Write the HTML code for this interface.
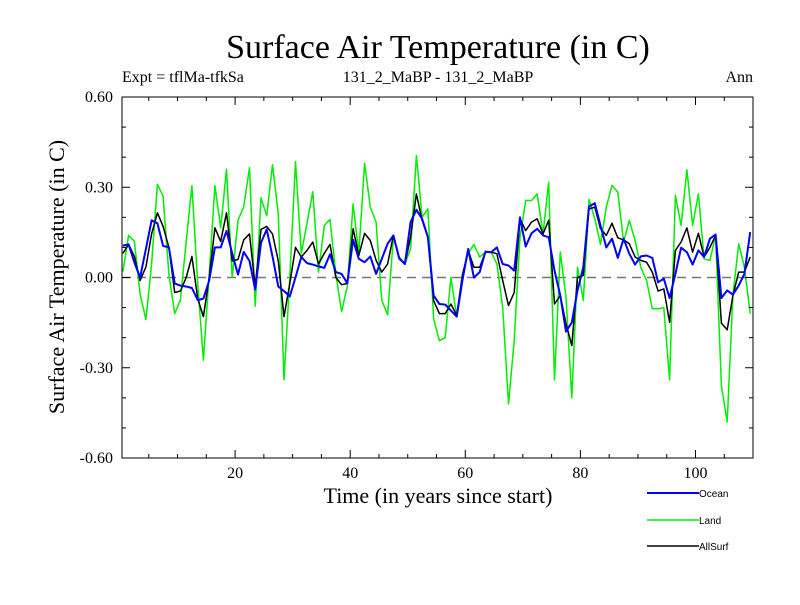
<!DOCTYPE html>
<html><head><meta charset="utf-8"><style>
body{margin:0;background:#fff}
svg text{font-family:"Liberation Serif",serif}
</style></head><body>
<svg id="chart" width="800" height="600" xmlns="http://www.w3.org/2000/svg">
<rect width="800" height="600" fill="#fff"/>
<text x="438" y="58" font-size="34" text-anchor="middle">Surface Air Temperature (in C)</text>
<text x="122" y="82" font-size="16">Expt = tflMa-tfkSa</text>
<text x="438" y="82" font-size="16" text-anchor="middle">131_2_MaBP - 131_2_MaBP</text>
<text x="753" y="82" font-size="16" text-anchor="end">Ann</text>
<text x="438" y="503" font-size="22" text-anchor="middle">Time (in years since start)</text>
<text transform="translate(64,277) rotate(-90)" font-size="22" text-anchor="middle">Surface Air Temperature (in C)</text>
<g id="plot"></g>
<g id="legend">
<line x1="647" y1="493" x2="699" y2="493" stroke="#0000ff" stroke-width="2"/>
<text x="699" y="497" font-size="10" style="font-family:'Liberation Sans',sans-serif">Ocean</text>
<line x1="647" y1="520" x2="699" y2="520" stroke="#00ee00" stroke-width="1.5"/>
<text x="699" y="524" font-size="10" style="font-family:'Liberation Sans',sans-serif">Land</text>
<line x1="647" y1="546" x2="699" y2="546" stroke="#000" stroke-width="1.5"/>
<text x="699" y="550" font-size="10" style="font-family:'Liberation Sans',sans-serif">AllSurf</text>
</g>
</svg>
<script>
const years = Array.from({length:110},(_, i)=>i+0.5);
const ocean = [0.106,0.11,0.05,0.0,0.095,0.19,0.18,0.105,0.10,-0.02,
-0.027,-0.03,-0.035,-0.075,-0.07,-0.01,0.10,0.10,0.155,0.08,
0.01,0.085,0.055,-0.04,0.115,0.16,0.07,-0.03,-0.045,-0.063,
0.0,0.068,0.048,0.043,0.037,0.032,0.077,0.018,0.012,-0.019,
0.125,0.062,0.051,0.07,0.012,0.062,0.112,0.14,0.065,0.045,
0.184,0.225,0.195,0.134,-0.06,-0.088,-0.09,-0.11,-0.13,-0.01,
0.095,0.0,0.018,0.086,0.084,0.1,0.045,0.04,0.023,0.2,
0.103,0.147,0.162,0.14,0.134,0.023,-0.06,-0.18,-0.15,-0.043,
0.034,0.236,0.247,0.173,0.1,0.129,0.065,0.129,0.079,0.043,
0.07,0.073,0.065,-0.016,-0.004,-0.068,0.012,0.099,0.084,0.043,
0.09,0.068,0.129,0.143,-0.068,-0.043,-0.057,-0.027,0.012,0.151];
const land = [0.02,0.14,0.12,-0.055,-0.14,0.045,0.31,0.27,0.01,-0.12,
-0.075,0.12,0.305,-0.02,-0.275,0.01,0.305,0.165,0.36,0.0,
0.19,0.235,0.365,-0.095,0.265,0.205,0.375,0.21,-0.34,0.0,
0.385,0.08,0.18,0.285,0.018,0.173,0.193,0.012,-0.113,-0.03,
0.245,0.08,0.38,0.234,0.184,-0.076,-0.124,0.134,0.068,0.045,
0.095,0.405,0.2,0.228,-0.137,-0.21,-0.2,0.0,-0.13,0.01,
0.08,0.11,0.068,0.084,0.084,0.045,-0.1,-0.42,-0.21,0.134,
0.256,0.256,0.278,0.145,0.317,-0.34,0.084,-0.065,-0.4,0.034,
-0.076,0.26,0.195,0.11,0.234,0.306,0.284,0.118,0.19,0.123,
0.034,-0.01,-0.104,-0.104,-0.1,-0.34,0.273,0.173,0.358,0.173,
0.278,0.062,0.057,0.14,-0.36,-0.48,-0.06,0.112,0.034,-0.12];
const allsurf = [0.08,0.11,0.07,-0.01,0.035,0.145,0.215,0.17,0.10,-0.05,
-0.045,0.0,0.07,-0.07,-0.13,0.0,0.165,0.12,0.215,0.055,
0.06,0.125,0.145,-0.03,0.16,0.17,0.145,0.055,-0.13,-0.02,
0.10,0.068,0.09,0.118,0.045,0.08,0.11,0.0,-0.024,-0.02,
0.162,0.073,0.147,0.123,0.057,0.018,0.045,0.14,0.062,0.045,
0.134,0.278,0.19,0.134,-0.077,-0.12,-0.12,-0.088,-0.126,0.007,
0.09,0.034,0.034,0.084,0.084,0.079,-0.01,-0.093,-0.05,0.195,
0.156,0.184,0.195,0.145,0.19,-0.088,-0.06,-0.154,-0.226,0.0,
0.007,0.228,0.234,0.162,0.14,0.18,0.132,0.125,0.112,0.068,
0.057,0.051,0.018,-0.045,-0.038,-0.149,0.09,0.118,0.165,0.084,
0.147,0.068,0.1,0.14,-0.152,-0.174,-0.06,0.018,0.018,0.068];
const xTickValues = [20,40,60,80,100];
const xTickLabels = ["20","40","60","80","100"];
const yTickValues = [-0.6,-0.3,0,0.3,0.6];
const yTickLabels = ["-0.60","-0.30","0.00","0.30","0.60"];

const L=122,R=753,T=97,B=458;
const xMin=0.35,xMax=(R-120)/5.755;
const yMin=-0.6,yMax=0.6;
function sx(v){return L+(v-xMin)/(xMax-xMin)*(R-L);}
function sy(v){return B-(v-yMin)/(yMax-yMin)*(B-T);}
const NS='http://www.w3.org/2000/svg';
const g=document.getElementById('plot');
function mk(tag,attrs,parent){const e=document.createElementNS(NS,tag);for(const k in attrs)e.setAttribute(k,attrs[k]);(parent||g).appendChild(e);return e;}

const cp=mk('clipPath',{id:'clip'});mk('rect',{x:L,y:T,width:R-L,height:B-T},cp);

const z=mk('line',{x1:L,x2:R,y1:sy(0),y2:sy(0),stroke:'#777','stroke-width':1.5,'stroke-dasharray':'9,6'});



function series(vals,color,w,name){
  const d=vals.map((v,i)=>(i?'L':'M')+sx(years[i]).toFixed(1)+','+sy(v).toFixed(1)).join('');
  const p=mk('path',{d:d,fill:'none',stroke:color,'stroke-width':w,'clip-path':'url(#clip)','stroke-linejoin':'round'});
  
  
}
series(land,'#00ee00',1.5,'land-line');
series(allsurf,'#000000',1.5,'allsurf-line');
series(ocean,'#0000ff',2,'ocean-line');

const fr=mk('rect',{x:L,y:T,width:R-L,height:B-T,fill:'none',stroke:'#000','stroke-width':1});



for(let yr=5;yr<=110;yr+=5){
  const x=sx(yr); if(x>R)break;
  const major=yr%20===0, len=major?8:4;
  mk('line',{x1:x,x2:x,y1:B,y2:B-len,stroke:'#000'});
  mk('line',{x1:x,x2:x,y1:T,y2:T+len,stroke:'#000'});
}
xTickValues.forEach((v,i)=>{
  const t=mk('text',{x:sx(v),y:478,'font-size':16,'text-anchor':'middle'});
  t.textContent=xTickLabels[i];
  
  
});
for(let k=-6;k<=6;k++){
  const v=k/10,y=sy(v),major=k%3===0,len=major?8:4;
  mk('line',{x1:L,x2:L+len,y1:y,y2:y,stroke:'#000'});
  mk('line',{x1:R,x2:R-len,y1:y,y2:y,stroke:'#000'});
}
yTickValues.forEach((v,i)=>{
  const t=mk('text',{x:113,y:sy(v)+5,'font-size':16,'text-anchor':'end'});
  t.textContent=yTickLabels[i];
  
  
});
</script>
</body></html>
